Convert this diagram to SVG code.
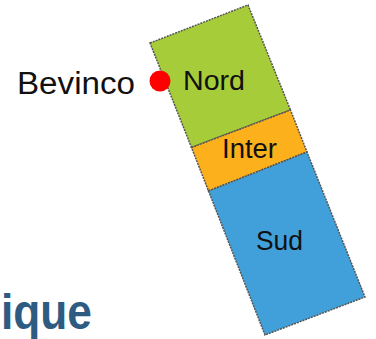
<svg xmlns="http://www.w3.org/2000/svg" width="376" height="339" viewBox="0 0 376 339">
<style>
.zone{stroke:#555;stroke-width:1.5;stroke-dasharray:2 1;stroke-linejoin:miter}
.lbl{font-family:"Liberation Sans",Arial,sans-serif;fill:#111}
</style>
<rect width="376" height="339" fill="#fff"/>
<g id="nord">
<polygon class="zone" fill="#a6cd39" points="150,43 248,5 290.5,110 191.5,147.5"/>
<text class="lbl" x="183" y="90" font-size="28" textLength="62" lengthAdjust="spacingAndGlyphs">Nord</text>
</g>
<g id="inter">
<polygon class="zone" fill="#fbb01c" points="191.5,147.5 290.5,110 307,152 208.5,191"/>
<text class="lbl" x="222" y="158" font-size="27" textLength="55" lengthAdjust="spacingAndGlyphs">Inter</text>
</g>
<g id="sud">
<polygon class="zone" fill="#419fd9" points="208.5,191 307,152 365,297 265,335"/>
<text class="lbl" x="256" y="250" font-size="28" textLength="47" lengthAdjust="spacingAndGlyphs">Sud</text>
</g>
<g id="bevinco">
<circle cx="160" cy="81" r="10.5" fill="#f00"/>
<text class="lbl" x="17" y="94" font-size="31" fill="#000" textLength="118" lengthAdjust="spacingAndGlyphs">Bevinco</text>
</g>
<g id="connectors"></g>
<text x="1" y="329" textLength="91" lengthAdjust="spacingAndGlyphs" font-family="'Liberation Sans',Arial,sans-serif" font-weight="bold" font-size="50" fill="#2e5b82">ique</text>
</svg>
